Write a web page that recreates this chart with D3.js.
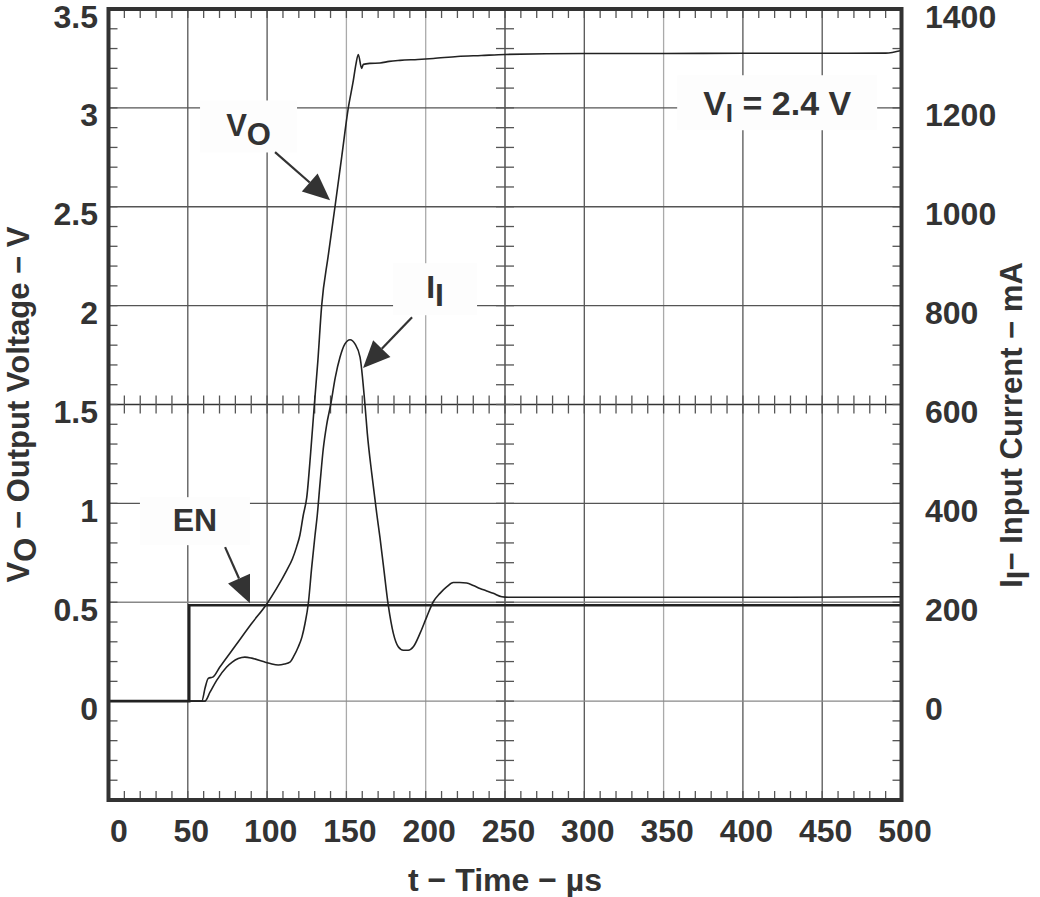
<!DOCTYPE html>
<html><head><meta charset="utf-8">
<script src="https://cdn.jsdelivr.net/npm/d3@7"></script>
<style>
body{margin:0;background:#fff}
text{font-family:Arial,"Liberation Sans",Helvetica,sans-serif;font-weight:bold;fill:#333}
</style>
</head><body>
<svg id="c" width="1040" height="897"></svg>
<script>
// ---- data ----
const timeTicks = [0,50,100,150,200,250,300,350,400,450,500];
const voltTicks = [0,0.5,1,1.5,2,2.5,3,3.5];
const voltLabels = ["0","0.5","1","1.5","2","2.5","3","3.5"];
const currentTicks = [0,200,400,600,800,1000,1200,1400];

// EN (V)
const enT = [0, 50.9, 50.9, 500];
const enV = [0, 0, 0.485, 0.485];

// VO output voltage (V)
const voT = [0,50,58.8,61,62.9,66,70,80,90,100,106,112.3,116,118.6,120.7,122.8,125,127.5,129.8,132,134.4,138.5,142.8,147,151.2,154.4,156,157.5,159.6,160.7,165,171.2,177,183.8,195,204.8,220,235,250,300,350,400,450,490,500];
const voV = [0,0,0,0.07,0.115,0.123,0.17,0.28,0.39,0.494,0.57,0.66,0.72,0.78,0.84,0.94,1.03,1.26,1.5,1.72,2.0,2.25,2.5,2.75,3.0,3.14,3.22,3.27,3.2,3.22,3.225,3.227,3.235,3.24,3.245,3.25,3.26,3.265,3.27,3.275,3.275,3.276,3.276,3.277,3.29];

// II input current (mA)
const iiT = [0,50,60.8,64,68.2,74.5,78,81.8,86,90.3,97.6,102,107,111,114.4,117,119.7,122,123.9,126,128.1,130.2,131.6,133.5,135.4,137.5,140.1,143,146,149,152.3,155.5,158.6,161.7,163.2,166,169.1,171.2,173.3,176.4,179.6,182.7,185.9,189,192.2,196.4,200.6,204.8,209,213.2,217.4,221.5,225.8,230,234.2,238.4,242.6,248,252,300,400,500];
const iiI = [0,0,0,18,42,69,79,86,89,87,80,76,73,75,79,92,110,130,157,198,270,335,375,445,510,558,600,655,696,722,731,722,696,600,541,460,380,330,275,194,137,110,103,103,110,137,170,201,218,231,240,240,239,234,228,223,218,211,210,210,210,211];

// ---- layout ----
const svg = d3.select("#c");
const L = 108.5, R = 901.5, T = 9, B = 800;
const x = d3.scaleLinear().domain([0,500]).range([L,R]);
const yV = d3.scaleLinear().domain([-0.5,3.5]).range([B,T]);
const yI = d3.scaleLinear().domain([-200,1400]).range([B,T]);
const ink = "#333";

// grid
const lightX = new Set([150,200,350]);
const g = svg.append("g");
timeTicks.filter(t=>t>0&&t<500).forEach(t=>{
  g.append("line").attr("x1",x(t)).attr("x2",x(t)).attr("y1",T).attr("y2",B)
   .attr("stroke", lightX.has(t) ? "#aaa" : (t===250?"#333":"#555")).attr("stroke-width",1.3);
});
voltTicks.filter(v=>v<3.5).forEach(v=>{
  g.append("line").attr("x1",L).attr("x2",R).attr("y1",yV(v)).attr("y2",yV(v))
   .attr("stroke", v<=0.5 ? "#888" : (v===1.5?"#333":"#555")).attr("stroke-width",1.3);
});

// minor ticks (borders and center cross)
const minorT = d3.range(10,500,10);
const minorV = d3.range(-0.4,3.45,0.1).map(v=>+v.toFixed(2));
const tk = svg.append("g").attr("stroke","#555").attr("stroke-width",1.3);
minorT.forEach(t=>{
  tk.append("line").attr("x1",x(t)).attr("x2",x(t)).attr("y1",B).attr("y2",B-9);
  tk.append("line").attr("x1",x(t)).attr("x2",x(t)).attr("y1",T).attr("y2",T+9);
  tk.append("line").attr("x1",x(t)).attr("x2",x(t)).attr("y1",yV(1.5)-9).attr("y2",yV(1.5)+9);
});
minorV.forEach(v=>{
  tk.append("line").attr("y1",yV(v)).attr("y2",yV(v)).attr("x1",L).attr("x2",L+9);
  tk.append("line").attr("y1",yV(v)).attr("y2",yV(v)).attr("x1",R).attr("x2",R-9);
  tk.append("line").attr("y1",yV(v)).attr("y2",yV(v)).attr("x1",x(250)-9).attr("x2",x(250)+9);
});

// annotation boxes (in data coordinates)
const boxes = [
  {t:88.3, v:2.906, w:97, h:52},
  {t:205.9, v:2.083, w:84, h:52},
  {t:54.5, v:0.91, w:110, h:48},
  {t:421.6, v:3.026, w:200, h:55}
];
svg.append("g").selectAll("rect").data(boxes).join("rect")
  .attr("x",d=>x(d.t)-d.w/2).attr("y",d=>yV(d.v)-d.h/2)
  .attr("width",d=>d.w).attr("height",d=>d.h).attr("fill","#fdfdfd");

// curves
const lineV = d3.line().x(d=>x(d[0])).y(d=>yV(d[1]));
const lineI = d3.line().x(d=>x(d[0])).y(d=>yI(d[1])).curve(d3.curveMonotoneX);
const lineVs = d3.line().x(d=>x(d[0])).y(d=>yV(d[1])).curve(d3.curveMonotoneX);
svg.append("path").datum(d3.zip(enT,enV)).attr("d",lineV)
  .attr("fill","none").attr("stroke","#222").attr("stroke-width",2.6);
svg.append("path").datum(d3.zip(iiT,iiI)).attr("d",lineI)
  .attr("fill","none").attr("stroke","#222").attr("stroke-width",1.6);
svg.append("path").datum(d3.zip(voT,voV)).attr("d",lineVs)
  .attr("fill","none").attr("stroke","#222").attr("stroke-width",1.6);

// border
svg.append("rect").attr("x",L).attr("y",T).attr("width",R-L).attr("height",B-T)
  .attr("fill","none").attr("stroke",ink).attr("stroke-width",4);

// axes labels
const fs = 32;
const ax = svg.append("g").attr("transform",`translate(0,${B})`)
  .call(d3.axisBottom(x).tickValues(timeTicks).tickSize(0).tickFormat(d3.format("d")));
ax.select(".domain").remove();
ax.selectAll("text").attr("y",42).attr("dy",0).attr("dx",d=>d===0?10:3)
  .style("font-size",fs+"px").attr("fill",ink);

const ay = svg.append("g").attr("transform",`translate(${L},0)`)
  .call(d3.axisLeft(yV).tickValues(voltTicks).tickSize(0).tickFormat((d,i)=>voltLabels[i]));
ay.select(".domain").remove();
ay.selectAll("text").attr("x",-10.5).attr("y",18).attr("dy",0)
  .style("font-size",fs+"px").attr("fill",ink);

const ar = svg.append("g").attr("transform",`translate(${R},0)`)
  .call(d3.axisRight(yI).tickValues(currentTicks).tickSize(0).tickFormat(d3.format("d")));
ar.select(".domain").remove();
ar.selectAll("text").attr("x",23.5).attr("y",18).attr("dy",0)
  .style("font-size",fs+"px").attr("fill",ink);

// axis titles
svg.append("text").attr("x",(L+R)/2).attr("y",891).attr("text-anchor","middle")
  .style("font-size","32px").text("t − Time − µs");

const lt = svg.append("text").attr("transform",`translate(29,${(T+B)/2}) rotate(-90)`)
  .attr("text-anchor","middle").style("font-size","31px");
lt.append("tspan").text("V");
lt.append("tspan").attr("dy",7).text("O");
lt.append("tspan").attr("dy",-7).text(" − Output Voltage − V");

const rt = svg.append("text").attr("transform",`translate(1022,425) rotate(-90)`)
  .attr("text-anchor","middle").style("font-size","31px");
rt.append("tspan").text("I");
rt.append("tspan").attr("dy",7).text("I");
rt.append("tspan").attr("dy",-7).text("− Input Current − mA");

// annotation texts
function label(t,v,parts,size){
  const tx = svg.append("text").attr("x",x(t)).attr("y",yV(v)).attr("text-anchor","middle")
    .style("font-size",size+"px");
  parts.forEach(p=>tx.append("tspan").attr("dy",p[1]).style("font-size",(p[2]||size)+"px").text(p[0]));
}
label(88.3, 2.86, [["V",0],["O",9]], 31);
label(205.9, 2.04, [["I",0],["I",8]], 32);
label(54.5, 0.86, [["EN",0]], 32);
label(421.6, 2.965, [["V",0],["I",7,26],[" = 2.4 V",-7]], 34);

// arrows
const arrows = [
  {t0:105, v0:2.776, t1:139.7, v1:2.533},
  {t0:191.4, v0:1.941, t1:160.5, v1:1.684},
  {t0:73.5, v0:0.779, t1:89.2, v1:0.495}
];
arrows.forEach(a=>{
  const x0=x(a.t0), y0=yV(a.v0), x1=x(a.t1), y1=yV(a.v1);
  const dx=x1-x0, dy=y1-y0, len=Math.hypot(dx,dy), ux=dx/len, uy=dy/len;
  const hl=27, hw=12;
  const bx=x1-ux*hl, by=y1-uy*hl;
  svg.append("line").attr("x1",x0).attr("y1",y0).attr("x2",bx).attr("y2",by)
    .attr("stroke","#333").attr("stroke-width",2.2);
  svg.append("path").attr("d",`M${x1},${y1}L${bx-uy*hw},${by+ux*hw}L${bx+uy*hw},${by-ux*hw}Z`)
    .attr("fill","#333");
});
</script>
</body></html>
